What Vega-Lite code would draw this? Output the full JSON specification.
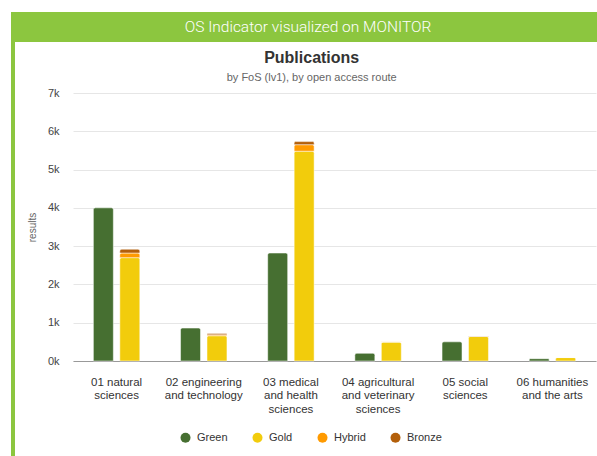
{
  "$schema": "https://vega.github.io/schema/vega-lite/v6.json",
  "background": "white",
  "padding": {"left": 11, "top": 12, "right": 0, "bottom": 0},
  "spacing": 0,
  "config": {"view": {"stroke": null}, "font": "Liberation Sans"},
  "vconcat": [
    {
      "width": 586,
      "height": 30,
      "view": {"fill": "#8cc63f", "stroke": null},
      "data": {"values": [{"label": "OS Indicator visualized on MONITOR"}]},
      "mark": {"type": "text", "color": "white", "fontSize": 15.5, "font": "Roboto", "fontWeight": 300, "dx": 4},
      "encoding": {"text": {"field": "label", "type": "nominal"}}
    },
    {
      "spacing": 12,
      "hconcat": [
        {
          "width": 4,
          "height": 414,
          "view": {"fill": "#8cc63f", "stroke": null},
          "data": {"values": []},
          "mark": "rect",
          "encoding": {}
        },
        {
          "spacing": 0,
          "vconcat": [
            {
              "width": 1,
              "height": 8,
              "data": {"values": []},
              "mark": "rect",
              "encoding": {}
            },
            {
              "width": 523,
              "height": 268,
              "title": {
                "text": "Publications",
                "subtitle": "by FoS (lv1), by open access route",
                "fontSize": 16,
                "fontWeight": "bold",
                "color": "#333333",
                "subtitleFontSize": 11,
                "subtitleColor": "#666666",
                "subtitlePadding": 6,
                "offset": 4,
                "frame": "bounds",
                "anchor": "middle"
              },
              "data": {
                "values": [
                  {"fos": "01 natural sciences", "bar": "A", "route": "Green", "value": 4000},
                  {"fos": "01 natural sciences", "bar": "B", "route": "Gold", "value": 2700},
                  {"fos": "01 natural sciences", "bar": "B", "route": "Hybrid", "value": 120},
                  {"fos": "01 natural sciences", "bar": "B", "route": "Bronze", "value": 100},
                  {"fos": "02 engineering and technology", "bar": "A", "route": "Green", "value": 860},
                  {"fos": "02 engineering and technology", "bar": "B", "route": "Gold", "value": 660},
                  {"fos": "02 engineering and technology", "bar": "B", "route": "Hybrid", "value": 25},
                  {"fos": "02 engineering and technology", "bar": "B", "route": "Bronze", "value": 35},
                  {"fos": "03 medical and health sciences", "bar": "A", "route": "Green", "value": 2820},
                  {"fos": "03 medical and health sciences", "bar": "B", "route": "Gold", "value": 5480},
                  {"fos": "03 medical and health sciences", "bar": "B", "route": "Hybrid", "value": 170},
                  {"fos": "03 medical and health sciences", "bar": "B", "route": "Bronze", "value": 80},
                  {"fos": "04 agricultural and veterinary sciences", "bar": "A", "route": "Green", "value": 200},
                  {"fos": "04 agricultural and veterinary sciences", "bar": "B", "route": "Gold", "value": 495},
                  {"fos": "04 agricultural and veterinary sciences", "bar": "B", "route": "Hybrid", "value": 5},
                  {"fos": "04 agricultural and veterinary sciences", "bar": "B", "route": "Bronze", "value": 5},
                  {"fos": "05 social sciences", "bar": "A", "route": "Green", "value": 500},
                  {"fos": "05 social sciences", "bar": "B", "route": "Gold", "value": 640},
                  {"fos": "05 social sciences", "bar": "B", "route": "Hybrid", "value": 5},
                  {"fos": "05 social sciences", "bar": "B", "route": "Bronze", "value": 5},
                  {"fos": "06 humanities and the arts", "bar": "A", "route": "Green", "value": 60},
                  {"fos": "06 humanities and the arts", "bar": "B", "route": "Gold", "value": 90},
                  {"fos": "06 humanities and the arts", "bar": "B", "route": "Hybrid", "value": 2},
                  {"fos": "06 humanities and the arts", "bar": "B", "route": "Bronze", "value": 2}
                ]
              },
              "transform": [
                {"calculate": "indexof(['Green','Gold','Hybrid','Bronze'], datum.route)", "as": "ord"},
                {"stack": "value", "groupby": ["fos", "bar"], "sort": [{"field": "ord", "order": "ascending"}], "as": ["v0", "v1"]}
              ],
              "mark": {"type": "bar", "stroke": "white", "strokeWidth": 1, "strokeOpacity": 0.5, "cornerRadiusTopLeft": 2, "cornerRadiusTopRight": 2},
              "encoding": {
                "x": {
                  "field": "fos",
                  "type": "nominal",
                  "scale": {"paddingInner": 0, "paddingOuter": 0},
                  "axis": {
                    "title": null,
                    "labelAngle": 0,
                    "labelFontSize": 11.5,
                    "labelColor": "#333333",
                    "labelPadding": 15,
                    "labelLineHeight": 13.5,
                    "ticks": false,
                    "domainColor": "#999999",
                    "domainWidth": 1,
                    "labelExpr": "({'01 natural sciences': ['01 natural', 'sciences'], '02 engineering and technology': ['02 engineering', 'and technology'], '03 medical and health sciences': ['03 medical', 'and health', 'sciences'], '04 agricultural and veterinary sciences': ['04 agricultural', 'and veterinary', 'sciences'], '05 social sciences': ['05 social', 'sciences'], '06 humanities and the arts': ['06 humanities', 'and the arts']})[datum.value]"
                  }
                },
                "xOffset": {"field": "bar", "type": "nominal", "scale": {"paddingInner": 0.245, "paddingOuter": 0.77}},
                "y": {
                  "field": "v1",
                  "type": "quantitative",
                  "scale": {"domain": [0, 7000], "nice": false},
                  "axis": {
                    "title": "results",
                    "titleColor": "#666666",
                    "titleFontSize": 10,
                    "titleFontWeight": "normal",
                    "titlePadding": 10,
                    "values": [0, 1000, 2000, 3000, 4000, 5000, 6000, 7000],
                    "format": "~s",
                    "labelFontSize": 11,
                    "labelColor": "#444444",
                    "labelPadding": 14,
                    "ticks": false,
                    "domain": false,
                    "gridColor": "#e6e6e6"
                  }
                },
                "y2": {"field": "v0"},
                "color": {
                  "field": "route",
                  "type": "nominal",
                  "scale": {"domain": ["Green", "Gold", "Hybrid", "Bronze"], "range": ["#466f31", "#f2cc0c", "#ff9a00", "#b35f0a"]},
                  "legend": {
                    "title": null,
                    "orient": "none",
                    "direction": "horizontal",
                    "legendX": 169,
                    "legendY": 420,
                    "symbolType": "circle",
                    "symbolSize": 100,
                    "symbolStrokeWidth": 0,
                    "labelFontSize": 11,
                    "labelColor": "#333333",
                    "labelOffset": 6,
                    "columnPadding": 24
                  }
                }
              }
            }
          ]
        }
      ]
    }
  ]
}
